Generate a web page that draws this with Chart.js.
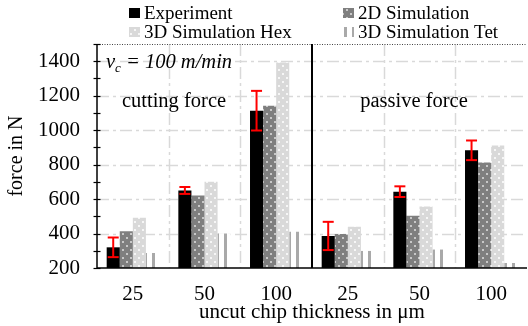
<!DOCTYPE html>
<html>
<head>
<meta charset="utf-8">
<script src="https://cdn.jsdelivr.net/npm/chart.js@4.4.1/dist/chart.umd.min.js"></script>
<style>
  html, body { margin: 0; padding: 0; background: #fff; }
  #wrap { width: 528px; height: 326px; }
</style>
</head>
<body>
<div id="wrap"><canvas id="forceChart" width="528" height="326"></canvas></div>
<script>
// categories: uncut chip thickness (cutting force | passive force)
const labels = ["25", "50", "100", "25", "50", "100"];
const seriesNames = ["Experiment", "2D Simulation", "3D Simulation Hex", "3D Simulation Tet"];

const experiment = [320, 650, 1113, 386, 643, 883];
const experimentErr = [57, 20, 115, 82, 31, 57];
const sim2d = [414, 621, 1141, 398, 503, 812];
const simHex = [491, 701, 1392, 439, 557, 911];
const simTet = [287, 400, 410, 299, 307, 229];

const yMin = 200;
const yMax = 1500;
const gridValues = [400, 600, 800, 1000, 1200, 1400];

const serif = "'Liberation Serif', 'Times New Roman', serif";

// fill patterns like the excel ones
function dotPattern(base, dot) {
  const c = document.createElement("canvas");
  c.width = 8; c.height = 8;
  const g = c.getContext("2d");
  g.fillStyle = base;
  g.fillRect(0, 0, 8, 8);
  g.fillStyle = dot;
  g.fillRect(2, 1, 2, 2);
  g.fillRect(6, 5, 2, 2);
  return g.createPattern(c, "repeat");
}
function stripePattern(base) {
  const c = document.createElement("canvas");
  c.width = 8; c.height = 4;
  const g = c.getContext("2d");
  g.fillStyle = "#ffffff";
  g.fillRect(0, 0, 8, 4);
  g.fillStyle = base;
  g.fillRect(0, 0, 3, 4);
  return g.createPattern(c, "repeat");
}

const ctx = document.getElementById("forceChart").getContext("2d");
const fills = [
  "#000000",
  dotPattern("#7f7f7f", "#c8c8c8"),
  dotPattern("#d9d9d9", "#f6f6f6"),
  stripePattern("#a9a9a9")
];

function dashLine(g, x1, y1, x2, y2) {
  g.beginPath();
  g.moveTo(x1, y1);
  g.lineTo(x2, y2);
  g.stroke();
}

const decorPlugin = {
  id: "decor",
  beforeDatasetsDraw(chart) {
    const g = chart.ctx;
    const area = chart.chartArea;
    const x = chart.scales.x;
    const y = chart.scales.y;
    g.save();
    // horizontal dash-dot grid
    g.strokeStyle = "#d9d9d9";
    g.lineWidth = 1.5;
    g.setLineDash([12, 4, 3, 4]);
    gridValues.forEach(v => {
      const py = Math.round(y.getPixelForValue(v)) + 0.5;
      dashLine(g, area.left, py, area.right, py);
    });
    // vertical dash-dot grid on category boundaries
    for (let i = 0; i < labels.length - 1; i++) {
      if (i === 2) continue;
      const px = Math.round((x.getPixelForValue(i) + x.getPixelForValue(i + 1)) / 2) + 0.5;
      dashLine(g, px, area.top, px, area.bottom);
    }
    // dotted top line
    g.strokeStyle = "#444";
    g.lineWidth = 1;
    g.setLineDash([1, 1.5]);
    const top = Math.round(y.getPixelForValue(yMax)) + 0.5;
    dashLine(g, area.left, top, area.right, top);
    g.restore();
  },
  afterDatasetsDraw(chart) {
    const g = chart.ctx;
    const area = chart.chartArea;
    const x = chart.scales.x;
    const y = chart.scales.y;
    g.save();
    // separator between cutting and passive force
    g.strokeStyle = "#000";
    g.lineWidth = 2;
    g.setLineDash([]);
    const sep = (x.getPixelForValue(2) + x.getPixelForValue(3)) / 2;
    dashLine(g, sep, area.top, sep, area.bottom);

    // error bars
    const meta = chart.getDatasetMeta(0);
    g.strokeStyle = "#ff0000";
    g.lineWidth = 2;
    meta.data.forEach((bar, i) => {
      const hi = y.getPixelForValue(experiment[i] + experimentErr[i]);
      const lo = y.getPixelForValue(experiment[i] - experimentErr[i]);
      dashLine(g, bar.x, hi, bar.x, lo);
      dashLine(g, bar.x - 5.5, hi, bar.x + 5.5, hi);
      dashLine(g, bar.x - 5.5, lo, bar.x + 5.5, lo);
    });

    // axes lines and tick marks
    g.strokeStyle = "#000";
    g.lineWidth = 1.5;
    dashLine(g, area.left, area.top, area.left, area.bottom);
    dashLine(g, area.left, area.bottom, area.right, area.bottom);
    g.lineWidth = 1.2;
    for (let v = yMin; v <= yMax; v += 100) {
      const py = Math.round(y.getPixelForValue(v)) + 0.5;
      dashLine(g, area.left - 3.5, py, area.left + 3.5, py);
    }

    // annotations
    g.fillStyle = "#000";
    g.textBaseline = "alphabetic";
    g.textAlign = "left";
    let tx = area.left + 9;
    const ty = area.top + 24;
    g.font = "italic 20.5px " + serif;
    g.fillText("v", tx, ty);
    tx += g.measureText("v").width;
    g.font = "italic 13px " + serif;
    g.fillText("c", tx, ty + 4);
    tx += g.measureText("c").width;
    g.font = "italic 20.5px " + serif;
    g.fillText(" = 100 m/min", tx, ty);

    g.font = "20.5px " + serif;
    g.textAlign = "center";
    g.fillText("cutting force", area.left + 77, area.top + 63);
    g.fillText("passive force", area.left + 317, area.top + 63);

    // legend, two columns
    g.textAlign = "left";
    g.textBaseline = "middle";
    g.font = "19px " + serif;
    const cols = [129, 343];
    const rows = [13, 32];
    seriesNames.forEach((name, i) => {
      const lx = cols[i % 2];
      const ly = rows[Math.floor(i / 2)];
      g.fillStyle = fills[i];
      g.fillRect(lx, ly - 5, 11, 10);
      g.fillStyle = "#000";
      g.fillText(name, lx + 15, ly + 1);
    });
    g.restore();
  }
};

const datasets = [experiment, sim2d, simHex, simTet].map((vals, i) => ({
  label: seriesNames[i],
  data: vals,
  backgroundColor: fills[i],
  borderWidth: 0
}));

new Chart(ctx, {
  type: "bar",
  data: { labels: labels, datasets: datasets },
  options: {
    responsive: false,
    devicePixelRatio: 1,
    animation: false,
    layout: { padding: { top: 44, right: 1, left: 0, bottom: 0 } },
    datasets: { bar: { categoryPercentage: 0.73, barPercentage: 1.0 } },
    plugins: { legend: { display: false }, tooltip: { enabled: false } },
    scales: {
      x: {
        grid: { display: false, drawTicks: false },
        border: { display: false },
        ticks: { color: "#000", padding: 14, font: { family: serif, size: 21 } },
        title: {
          display: true,
          text: "uncut chip thickness in μm",
          color: "#000",
          padding: { top: 0, bottom: 1 },
          font: { family: serif, size: 21 }
        },
        afterFit(scale) { scale.height = 58; }
      },
      y: {
        min: yMin,
        max: yMax,
        grid: { display: false, drawTicks: false },
        border: { display: false },
        ticks: {
          stepSize: 100,
          color: "#000",
          padding: 17,
          font: { family: serif, size: 21 },
          callback: v => (v % 200 === 0 ? v : "")
        },
        title: {
          display: true,
          text: "force in N",
          color: "#000",
          padding: { top: 5, bottom: 0 },
          font: { family: serif, size: 20 }
        },
        afterFit(scale) { scale.width = 97; }
      }
    }
  },
  plugins: [decorPlugin]
});
</script>
</body>
</html>
